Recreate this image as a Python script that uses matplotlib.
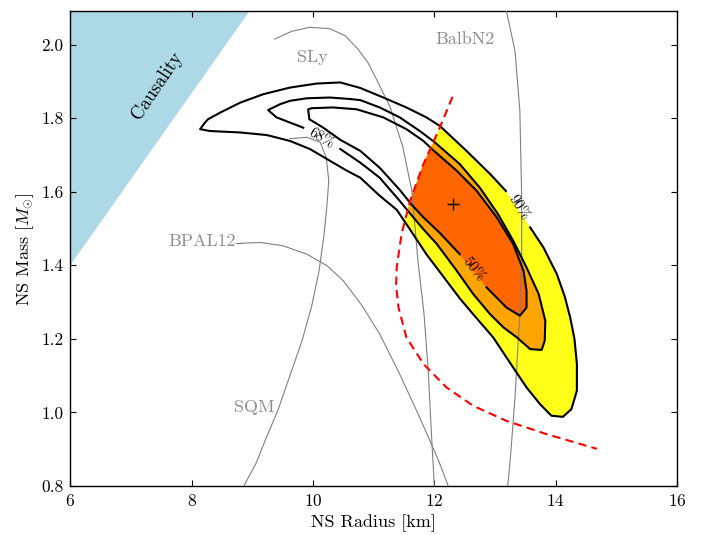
import matplotlib
matplotlib.use("Agg")
import matplotlib.pyplot as plt
from matplotlib.patches import Polygon
import numpy as np

plt.rcParams["font.family"] = "serif"
plt.rcParams["font.serif"] = ["cmr10"]
plt.rcParams["mathtext.fontset"] = "cm"
plt.rcParams["axes.formatter.use_mathtext"] = True

# credible contours, radius [km] / mass [Msun]; each list starts and ends at the label gap
r90 = [13.58, 13.80, 14.02, 14.15, 14.24, 14.31, 14.35, 14.35, 14.26, 14.12, 13.93, 13.74,
       13.52, 13.30, 12.97, 12.64, 12.42, 12.20, 11.87, 11.54, 11.38, 11.10, 10.78, 10.56,
       10.28, 9.95, 9.62, 9.24, 8.80, 8.30, 8.14, 8.22, 8.27, 8.47, 8.80, 9.18, 9.62, 10.06,
       10.45, 10.78, 11.16, 11.54, 11.87, 12.09, 12.53, 12.92, 13.18]
m90 = [1.503, 1.448, 1.376, 1.315, 1.258, 1.200, 1.132, 1.059, 1.009, 0.988, 0.991, 1.023,
       1.068, 1.122, 1.204, 1.267, 1.310, 1.358, 1.430, 1.512, 1.551, 1.589, 1.638, 1.657,
       1.684, 1.716, 1.738, 1.754, 1.761, 1.765, 1.770, 1.788, 1.797, 1.815, 1.842, 1.865,
       1.883, 1.894, 1.897, 1.882, 1.856, 1.829, 1.802, 1.779, 1.711, 1.648, 1.602]

r68 = [9.84, 9.62, 9.40, 9.26, 9.46, 9.62, 9.90, 10.28, 10.61, 10.78, 11.10, 11.43, 11.76,
       12.01, 12.42, 12.75, 13.05, 13.30, 13.52, 13.72, 13.83, 13.82, 13.77, 13.58, 13.36,
       13.14, 12.92, 12.64, 12.37, 12.04, 11.83, 11.63, 11.43, 11.10, 10.78, 10.45]
m68 = [1.774, 1.788, 1.802, 1.822, 1.838, 1.847, 1.854, 1.856, 1.852, 1.849, 1.829, 1.802,
       1.765, 1.734, 1.675, 1.611, 1.539, 1.467, 1.394, 1.322, 1.249, 1.195, 1.170, 1.172,
       1.204, 1.231, 1.267, 1.322, 1.385, 1.458, 1.496, 1.535, 1.575, 1.638, 1.679, 1.716]

r50 = [12.42, 12.09, 11.81, 11.63, 11.43, 11.10, 10.78, 10.45, 10.17, 9.94, 9.92, 9.98,
       10.33, 10.72, 11.16, 11.54, 11.82, 11.96, 12.37, 12.70, 13.03, 13.30, 13.47, 13.52,
       13.52, 13.41, 13.19, 12.86]
m50 = [1.430, 1.488, 1.532, 1.564, 1.605, 1.665, 1.711, 1.741, 1.774, 1.797, 1.824, 1.827,
       1.829, 1.824, 1.802, 1.770, 1.738, 1.716, 1.657, 1.602, 1.530, 1.458, 1.385, 1.331,
       1.285, 1.263, 1.285, 1.340]

# dashed constraint curve
r_cut = [12.30, 12.09, 11.82, 11.60, 11.46, 11.38, 11.37, 11.41, 11.54, 11.82, 12.20,
         12.64, 13.19, 13.85, 14.68]
m_cut = [1.858, 1.774, 1.675, 1.575, 1.485, 1.394, 1.344, 1.285, 1.204, 1.132, 1.068,
         1.018, 0.977, 0.941, 0.901]

best_r, best_m = 12.31, 1.566

# mass-radius curves of equations of state
eos = {
    "SLy": ([9.37, 9.65, 9.95, 10.28, 10.53, 10.74, 10.91, 11.06, 11.27, 11.48, 11.63,
             11.73, 11.83, 11.90, 11.95, 12.00],
            [2.015, 2.036, 2.047, 2.043, 2.024, 1.988, 1.950, 1.901, 1.831, 1.722, 1.602,
             1.412, 1.268, 1.113, 0.950, 0.800]),
    "SQM": ([9.62, 9.90, 10.12, 10.22, 10.26, 10.23, 10.18, 10.10, 9.98, 9.82, 9.62,
             9.42, 9.21, 9.06, 8.86],
            [1.744, 1.748, 1.734, 1.692, 1.630, 1.562, 1.480, 1.385, 1.290, 1.195, 1.100,
             1.005, 0.923, 0.861, 0.800]),
    "BPAL12": ([8.83, 9.13, 9.51, 9.90, 10.23, 10.50, 10.81, 11.10, 11.43, 11.76, 12.07,
                12.23],
               [1.460, 1.462, 1.453, 1.430, 1.399, 1.358, 1.290, 1.213, 1.104, 0.986, 0.869,
                0.800]),
    "BalbN2": ([13.19, 13.33, 13.41, 13.44, 13.44, 13.41, 13.33, 13.25, 13.21],
               [2.090, 1.983, 1.820, 1.583, 1.412, 1.268, 1.040, 0.869, 0.800]),
}
eos_label_pos = {"SLy": (9.99, 1.964), "SQM": (9.04, 1.015),
                 "BPAL12": (8.17, 1.464), "BalbN2": (12.51, 2.015)}

causal_r = [6.0, 8.95, 6.0]
causal_m = [1.4, 2.09, 2.09]


def main():
    xmin, xmax, ymin, ymax = 6, 16, 0.8, 2.09

    fig = plt.figure(figsize=(7.03, 5.35), dpi=100)
    ax = fig.add_axes([0.1, 0.0916, 0.863, 0.887])

    ax.fill(causal_r, causal_m, color="#add8e6", lw=0, zorder=1)
    ax.text(7.43, 1.888, "Causality", rotation=56, ha="center", va="center",
            fontsize=13.5, zorder=2)

    # region allowed by the dashed curve
    clip = Polygon(list(zip(r_cut, m_cut)) + [(xmax, ymin), (xmax, ymax)],
                   closed=True, transform=ax.transData)
    for r, m, c in [(r90, m90, "#ffff1a"), (r68, m68, "#ffa500"), (r50, m50, "#ff6600")]:
        patch, = ax.fill(r, m, color=c, lw=0, zorder=2)
        patch.set_clip_path(clip)

    for name, (r, m) in eos.items():
        ax.plot(r, m, color="#808080", lw=0.8, zorder=3)
        x, y = eos_label_pos[name]
        ax.text(x, y, name, color="#8c8c8c", fontsize=13, ha="center", va="center",
                zorder=3)
    ax.plot([eos["BPAL12"][0][0], 8.73], [eos["BPAL12"][1][0]] * 2, color="#808080",
            lw=0.8, zorder=3)

    for r, m in [(r90, m90), (r68, m68), (r50, m50)]:
        ax.plot(r, m, color="black", lw=1.5, zorder=4)

    ax.text(10.14, 1.745, "68%", rotation=-30, ha="center", va="center", fontsize=10.5, zorder=5)
    ax.text(12.64, 1.389, "50%", rotation=-51, ha="center", va="center", fontsize=10.5, zorder=5)
    ax.text(13.38, 1.556, "90%", rotation=-57, ha="center", va="center", fontsize=10.5, zorder=5)

    ax.plot(r_cut, m_cut, color="red", lw=1.5, dashes=(4, 2.5), zorder=5)
    ax.plot(best_r, best_m, marker="+", color="black", ms=8, mew=1.0, lw=0, zorder=6)

    ax.set_xlim(xmin, xmax)
    ax.set_ylim(ymin, ymax)
    ax.set_xticks(np.arange(6, 17, 2))
    ax.set_yticks(np.arange(0.8, 2.01, 0.2))
    ax.set_yticklabels(["%.1f" % v for v in np.arange(0.8, 2.01, 0.2)])
    ax.tick_params(direction="in", top=True, right=True, length=4, width=0.8,
                   labelsize=12.5, pad=5)
    for s in ax.spines.values():
        s.set_linewidth(1.0)

    ax.set_xlabel("NS Radius [km]", fontsize=13)
    ax.set_ylabel(r"NS Mass [$M_{\odot}$]", fontsize=13)

    fig.savefig("out.png", dpi=100)
    plt.close(fig)


if __name__ == "__main__":
    main()
